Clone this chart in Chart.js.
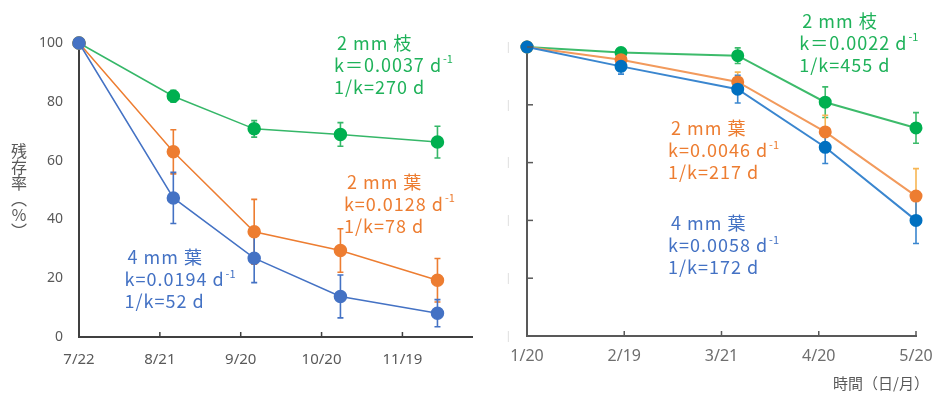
<!DOCTYPE html>
<html><head><meta charset="utf-8">
<script src="https://cdn.jsdelivr.net/npm/chart.js@4.4.1/dist/chart.umd.min.js"></script>
<style>
body{margin:0;background:#fff;width:933px;height:393px;overflow:hidden;position:relative;font-family:"Noto Sans CJK JP","Noto Sans",sans-serif;}
#c1{position:absolute;left:0;top:0;}
#c2{position:absolute;left:480px;top:0;}
#ytitle{position:absolute;left:11px;top:143px;writing-mode:vertical-rl;font-size:16px;color:#595959;line-height:16px;font-family:"Noto Sans CJK JP";}
#xtitle{position:absolute;left:833px;top:372px;font-size:15px;color:#595959;white-space:nowrap;font-family:"Noto Sans CJK JP";}
</style></head><body>
<canvas id="c1" width="480" height="393"></canvas>
<canvas id="c2" width="490" height="393"></canvas>
<div id="ytitle">残存率（％）</div>
<div id="xtitle">時間（日/月）</div>
<script>
// ---------- data: left panel (days since 7/22) ----------
const leftDays = [0, 35, 65, 97, 133];
const leftTickDays = [0, 30, 60, 90, 120];
const leftTickLabels = ['7/22', '8/21', '9/20', '10/20', '11/19'];
const leftBranch2 = [100, 81.9, 70.8, 68.9, 66.3];
const leftBranch2Err = [0, 2.0, 2.8, 4.0, 5.4];
const leftLeaf2 = [100, 63.0, 35.8, 29.4, 19.3];
const leftLeaf2Err = [0, 7.5, 11.0, 7.4, 7.4];
const leftLeaf4 = [100, 47.3, 26.8, 13.8, 8.1];
const leftLeaf4Err = [0, 8.7, 8.3, 7.3, 4.6];

// ---------- data: right panel (days since 1/20) ----------
const rightDays = [0, 29, 65, 92, 120];
const rightTickDays = [0, 30, 60, 90, 120];
const rightTickLabels = ['1/20', '2/19', '3/21', '4/20', '5/20'];
const rightBranch2 = [100, 98.1, 97.0, 80.9, 72.0];
const rightBranch2Err = [0, 1.0, 2.7, 5.3, 5.3];
const rightLeaf2 = [100, 95.6, 87.9, 70.6, 48.4];
const rightLeaf2Err = [0, 1.0, 3.4, 5.8, 9.5];
const rightLeaf4 = [100, 93.3, 85.4, 65.3, 40.0];
const rightLeaf4Err = [0, 2.7, 4.8, 5.6, 8.0];

const yTicks = [0, 20, 40, 60, 80, 100];

// ---------- annotation texts ----------
const leftBranchNote = [['2 mm 枝', ''], ['k＝0.0037 d', '-1'], ['1/k=270 d', '']];
const leftLeaf2Note = [['2 mm 葉', ''], ['k=0.0128 d', '-1'], ['1/k=78 d', '']];
const leftLeaf4Note = [['4 mm 葉', ''], ['k=0.0194 d', '-1'], ['1/k=52 d', '']];
const rightBranchNote = [['2 mm 枝', ''], ['k＝0.0022 d', '-1'], ['1/k=455 d', '']];
const rightLeaf2Note = [['2 mm 葉', ''], ['k=0.0046 d', '-1'], ['1/k=217 d', '']];
const rightLeaf4Note = [['4 mm 葉', ''], ['k=0.0058 d', '-1'], ['1/k=172 d', '']];

const GREEN = '#00B050', ORANGE = '#ED7D31', BLUE = '#4472C4';

function pts(xs, ys) { return xs.map((x, i) => ({x: x, y: ys[i]})); }

const errorBars = {
  id: 'errorBars',
  beforeDatasetsDraw(chart) {
    const ctx = chart.ctx, ys = chart.scales.y;
    chart.data.datasets.forEach((ds, di) => {
      const meta = chart.getDatasetMeta(di);
      if (!ds.errors) return;
      ctx.save();
      ctx.strokeStyle = ds.errorColor || ds.borderColor;
      ctx.lineWidth = 1.6;
      meta.data.forEach((el, i) => {
        const e = ds.errors[i];
        if (!e) return;
        const v = ds.data[i].y;
        const yt = ys.getPixelForValue(v + e), yb = ys.getPixelForValue(v - e);
        ctx.beginPath();
        ctx.moveTo(el.x, yt); ctx.lineTo(el.x, yb);
        ctx.moveTo(el.x - 3, yt); ctx.lineTo(el.x + 3, yt);
        ctx.moveTo(el.x - 3, yb); ctx.lineTo(el.x + 3, yb);
        ctx.stroke();
      });
      ctx.restore();
    });
  }
};

const decor = {
  id: 'decor',
  afterDraw(chart, args, opts) {
    const ctx = chart.ctx, xs = chart.scales.x, ys = chart.scales.y, ca = chart.chartArea;
    ctx.save();
    ctx.strokeStyle = opts.axisColor; ctx.lineWidth = 1.5;
    if (opts.xTick) {
      xs.ticks.forEach(t => {
        const px = xs.getPixelForValue(t.value);
        if (Math.abs(px - ca.left) < 2) return;
        ctx.beginPath(); ctx.moveTo(px, ca.bottom); ctx.lineTo(px, ca.bottom - opts.xTick); ctx.stroke();
      });
    }
    if (opts.yTick) {
      ys.ticks.forEach(t => {
        const py = ys.getPixelForValue(t.value);
        if (Math.abs(py - ca.bottom) < 2) return;
        ctx.beginPath(); ctx.moveTo(ca.left, py); ctx.lineTo(ca.left + opts.yTick, py); ctx.stroke();
      });
    }
    ctx.restore();
    // annotations
    ctx.save();
    ctx.textBaseline = 'middle'; ctx.textAlign = 'left';
    opts.notes.forEach(n => {
      const x0 = xs.getPixelForValue(n.x), y0 = ys.getPixelForValue(n.y);
      ctx.fillStyle = n.color;
      n.lines.forEach((ln, i) => {
        const y = y0 + i * 22, x = x0 + (i === 0 ? 3 : 0);
        ctx.letterSpacing = '1px';
        ctx.font = '18px "Noto Sans CJK JP"';
        ctx.fillText(ln[0], x, y);
        if (ln[1]) {
          const w = ctx.measureText(ln[0]).width;
          ctx.letterSpacing = '0px';
          ctx.font = '11px "Noto Sans CJK JP"';
          ctx.fillText(ln[1], x + w + 1, y - 6);
        }
      });
    });
    ctx.restore();
  }
};

function makeChart(id, cfg) {
  const ds = (label, xs, ys, errs, line, point, err, order, bw) => ({
    label: label, data: pts(xs, ys), errors: errs, errorColor: err,
    borderColor: line, backgroundColor: point, pointBackgroundColor: point, pointBorderColor: point,
    borderWidth: bw, pointRadius: cfg.r, pointHoverRadius: cfg.r, tension: 0, clip: false, order: order
  });
  return new Chart(document.getElementById(id), {
    type: 'line',
    data: { datasets: [
      ds('2 mm 枝', cfg.days, cfg.b2, cfg.b2e, cfg.gLine, GREEN, cfg.gLine, 2, cfg.bw),
      ds('2 mm 葉', cfg.days, cfg.l2, cfg.l2e, cfg.oLine, ORANGE, cfg.oErr, 1, cfg.bw),
      ds('4 mm 葉', cfg.days, cfg.l4, cfg.l4e, cfg.bLine, cfg.bPoint, cfg.bLine, 0, cfg.bw)
    ]},
    options: {
      responsive: false, devicePixelRatio: 1, animation: false,
      layout: { padding: cfg.pad },
      plugins: { legend: { display: false }, tooltip: { enabled: false },
        decor: { axisColor: cfg.axisColor, xTick: 5, yTick: cfg.yTick, notes: cfg.notes } },
      scales: {
        x: { type: 'linear', min: 0, max: cfg.xMax,
          afterBuildTicks: s => { s.ticks = cfg.tickDays.map(v => ({value: v})); },
          afterFit: s => { s.height = cfg.xH; },
          grid: { display: false, drawTicks: false },
          border: { color: cfg.axisColor, width: 2 },
          ticks: { autoSkip: false, maxRotation: 0, padding: cfg.xPad, color: cfg.xColor,
            font: { family: 'Noto Sans', size: cfg.xFont },
            callback: v => cfg.tickLabels[cfg.tickDays.indexOf(v)] } },
        y: { type: 'linear', min: 0, max: 100,
          afterBuildTicks: s => { s.ticks = yTicks.map(v => ({value: v})); },
          afterFit: s => { s.width = cfg.yW; },
          grid: { display: false, drawTicks: false },
          border: { color: cfg.axisColor, width: 2 },
          ticks: { padding: cfg.yPad, color: cfg.yColor, font: { family: 'Noto Sans', size: cfg.yFont },
            callback: cfg.yLabel } }
      }
    },
    plugins: [errorBars, decor]
  });
}

makeChart('c1', {
  days: leftDays, tickDays: leftTickDays, tickLabels: leftTickLabels, xMax: 146,
  b2: leftBranch2, b2e: leftBranch2Err, l2: leftLeaf2, l2e: leftLeaf2Err, l4: leftLeaf4, l4e: leftLeaf4Err,
  gLine: '#35B768', oLine: ORANGE, oErr: ORANGE, bLine: BLUE, bPoint: BLUE, r: 6, bw: 1.5,
  pad: { left: 0, top: 43, right: 3, bottom: 0 }, xH: 56, yW: 79,
  axisColor: '#404040', xPad: 14, xColor: '#595959', xFont: 15, yPad: 16, yColor: '#595959', yFont: 14,
  yTick: 0, yLabel: v => String(v),
  notes: [
    { x: 94.6, y: 100, color: '#1FB25A', lines: leftBranchNote },
    { x: 98.3, y: 52.8, color: ORANGE, lines: leftLeaf2Note },
    { x: 16.9, y: 27.1, color: BLUE, lines: leftLeaf4Note }
  ]
});

makeChart('c2', {
  days: rightDays, tickDays: rightTickDays, tickLabels: rightTickLabels, xMax: 120,
  b2: rightBranch2, b2e: rightBranch2Err, l2: rightLeaf2, l2e: rightLeaf2Err, l4: rightLeaf4, l4e: rightLeaf4Err,
  gLine: '#3DBB6B', oLine: '#F29A5C', oErr: '#F7B654', bLine: '#3A86CF', bPoint: '#0070C0', r: 5.5, bw: 2,
  pad: { left: 0, top: 47, right: 54, bottom: 0 }, xH: 57, yW: 47,
  axisColor: '#595959', xPad: 11, xColor: '#6e6e6e', xFont: 16, yPad: 16, yColor: '#d6d6d6', yFont: 10,
  yTick: 6, yLabel: () => '|',
  notes: [
    { x: 84, y: 109, color: '#1FB25A', lines: rightBranchNote },
    { x: 43.5, y: 71.8, color: ORANGE, lines: rightLeaf2Note },
    { x: 43.5, y: 38.9, color: BLUE, lines: rightLeaf4Note }
  ]
});
</script>
</body></html>
